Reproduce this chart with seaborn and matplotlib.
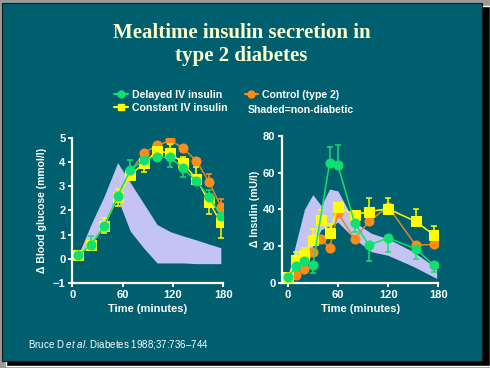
import numpy as np
import pandas as pd
import matplotlib
matplotlib.use("Agg")
import matplotlib.pyplot as plt
import seaborn as sns
from matplotlib.patches import Rectangle
from matplotlib.lines import Line2D

# ---- data ----
# glucose panel (mmol/l change)
t_glu = [7, 22, 38, 54, 69, 85, 101, 117, 132, 148, 163, 177]
glu_delayed = [0.15, 0.57, 1.37, 2.58, 3.67, 4.09, 4.23, 4.2, 3.74, 3.21, 2.56, 1.79]
glu_constant = [0.15, 0.57, 1.37, 2.55, 3.46, 3.95, 4.47, 4.37, 3.95, 3.3, 2.35, 1.51]
glu_control = [0.15, 0.57, 1.37, 2.58, 3.6, 4.37, 4.69, 4.9, 4.58, 4.05, 3.18, 2.16]
glu_delayed_up = [0, 0.38, 0, 0, 0.4, 0, 0, 0, 0, 0, 0.3, 0]
glu_delayed_lo = [0, 0, 0, 0, 0, 0, 0, 0.4, 0.35, 0, 0, 0]
glu_constant_up = [0, 0, 0.3, 0.36, 0, 0, 0, 0.38, 0.28, 0.5, 0, 0]
glu_constant_lo = [0, 0, 0.3, 0.36, 0, 0.35, 0, 0, 0, 0, 0.5, 0.63]
glu_control_up = [0, 0, 0, 0, 0, 0, 0, 0, 0, 0, 0.33, 0.33]
glu_nd_upper = [0.15, 1.4, 2.6, 3.98, 3.16, 2.29, 1.42, 1.12, 0.95, 0.78, 0.61, 0.46]
glu_nd_lower = [0.15, 0.6, 1.5, 2.5, 1.15, 0.45, -0.17, -0.17, -0.17, -0.2, -0.2, -0.2]

# insulin panel (mU/l change)
t_ins_delayed = [0, 10, 20, 30, 50, 60, 80, 97, 120, 153, 175]
ins_delayed = [3, 9, 12, 10, 65, 64, 32.5, 20.5, 24.5, 18.5, 9.5]
ins_delayed_up = [0, 0, 0, 0, 9, 11, 0, 0, 0, 0, 0]
ins_delayed_lo = [0, 0, 0, 4.5, 0, 0, 5, 8.5, 7.7, 5.5, 3.6]
t_ins = [0, 10, 20, 30, 40, 50, 60, 80, 97, 120, 153, 175]
ins_constant = [3, 12.5, 15, 23.5, 34, 27, 41.5, 37, 38.8, 40.3, 33.4, 26]
ins_constant_up = [0, 4.5, 4, 6, 5.5, 5, 0, 0, 7.5, 6, 7, 5]
ins_control = [3, 4.5, 7.5, 17, 24, 19, 38, 24, 33.4, 41.5, 20.5, 21]
t_ins_nd = [0, 10, 20, 30, 40, 50, 60, 80, 100, 120, 150, 178]
ins_nd_upper = [3, 22, 40, 48, 42, 51, 50, 33, 27, 24, 17, 8]
ins_nd_lower = [3, 6, 12, 20, 29, 31, 33, 24, 17, 15, 9, 2.5]

labels = ["Delayed IV insulin", "Constant IV insulin", "Control (type 2)"]

bg = "#005f6f"
green = "#10e070"
yellow = "#ffff00"
orange = "#ff8c1a"
orange_line = "#d98a2a"
lavender = "#c4c4f4"
txt = "#ffffff"

sns.set_theme(style="ticks")
plt.rcParams["font.family"] = ["Liberation Sans", "DejaVu Sans"]
plt.rcParams["mathtext.fontset"] = "custom"
plt.rcParams["mathtext.it"] = "Liberation Sans:italic"
plt.rcParams["mathtext.rm"] = "Liberation Sans"

fig = plt.figure(figsize=(4.9, 3.68), dpi=100)
fig.patch.set_facecolor("#9a9a9a")
fig.patches.append(Rectangle((0.012, 1 - 366 / 368), 0.988, 360 / 368,
                             transform=fig.transFigure, facecolor="black", zorder=-2))
fig.patches.append(Rectangle((0.004, 1 - 361 / 368), 0.98, 358 / 368,
                             transform=fig.transFigure, facecolor=bg,
                             edgecolor="#1a1a1a", linewidth=0.8, zorder=-1))

ax1 = fig.add_axes([0.1476, 0.231, 0.3082, 0.394])
ax2 = fig.add_axes([0.5761, 0.231, 0.3184, 0.4003])


def style_axis(ax):
    ax.set_facecolor("none")
    sns.despine(ax=ax)
    for s in ["left", "bottom"]:
        ax.spines[s].set_color(txt)
        ax.spines[s].set_linewidth(1.6)
    ax.tick_params(colors=txt, width=1.4, length=3, labelsize=8, pad=2)
    for lab in ax.get_xticklabels() + ax.get_yticklabels():
        lab.set_fontweight("bold")


def draw_series(ax, t, y, color, lcolor, marker, up, lo, z):
    df = pd.DataFrame({"t": t, "y": y})
    ax.errorbar(t, y, yerr=[lo, up], fmt="none", ecolor=color, elinewidth=1.1,
                capsize=2.5, capthick=1.1, zorder=z)
    sns.lineplot(data=df, x="t", y="y", ax=ax, color=lcolor, lw=1.1,
                 marker=marker, markersize=6.5, markerfacecolor=color,
                 markeredgecolor=color, zorder=z + 0.5)


# glucose
ax1.fill_between(t_glu, glu_nd_lower, glu_nd_upper, color=lavender, lw=0, zorder=1)
draw_series(ax1, t_glu, glu_control, orange, orange_line, "o",
            glu_control_up, [0] * 12, 2)
draw_series(ax1, t_glu, glu_constant, yellow, yellow, "s",
            glu_constant_up, glu_constant_lo, 3)
draw_series(ax1, t_glu, glu_delayed, green, green, "o",
            glu_delayed_up, glu_delayed_lo, 4)
ax1.set_xlim(0, 180)
ax1.set_ylim(-1, 5)
ax1.set_xticks([0, 60, 120, 180])
ax1.set_yticks(range(-1, 6))
ax1.set_xlabel("Time (minutes)", color=txt, fontsize=8, fontweight="bold", labelpad=3)
ax1.set_ylabel("Δ Blood glucose (mmol/l)", color=txt, fontsize=7.5,
               fontweight="bold", labelpad=4)
style_axis(ax1)

# insulin
ax2.fill_between(t_ins_nd, ins_nd_lower, ins_nd_upper, color=lavender, lw=0, zorder=1)
draw_series(ax2, t_ins, ins_control, orange, orange_line, "o",
            [0] * 12, [0] * 12, 2)
draw_series(ax2, t_ins, ins_constant, yellow, yellow, "s",
            ins_constant_up, [0] * 12, 3)
draw_series(ax2, t_ins_delayed, ins_delayed, green, green, "o",
            ins_delayed_up, ins_delayed_lo, 4)
ax2.set_xlim(-6.5, 180)
ax2.set_ylim(0, 80)
ax2.set_xticks([0, 60, 120, 180])
ax2.set_yticks([0, 20, 40, 60, 80])
ax2.set_xlabel("Time (minutes)", color=txt, fontsize=8, fontweight="bold", labelpad=3)
ax2.set_ylabel("Δ Insulin (mU/l)", color=txt, fontsize=7.5,
               fontweight="bold", labelpad=2)
style_axis(ax2)

# legend
handles = [
    Line2D([], [], color=green, marker="o", markersize=5, lw=1.5),
    Line2D([], [], color=yellow, marker="s", markersize=5, lw=1.5),
    Line2D([], [], color=orange, marker="o", markersize=5, lw=1.5),
]
leg = fig.legend(handles, labels, ncol=2, loc="upper left",
                 bbox_to_anchor=(0.222, 0.77), frameon=False, fontsize=7.6,
                 handlelength=1.3, handletextpad=0.4, columnspacing=1.6,
                 labelspacing=0.3, borderpad=0)
for t in leg.get_texts():
    t.set_color(txt)
    t.set_fontweight("bold")
fig.text(0.506, 0.701, "Shaded=non-diabetic", color=txt, fontsize=7.6,
         fontweight="bold", ha="left", va="center")

# title and source
fig.text(0.493, 0.879, "Mealtime insulin secretion in\ntype 2 diabetes",
         ha="center", va="center", color="#ffffcc", fontsize=15,
         fontweight="bold", family=["Liberation Serif", "DejaVu Serif"],
         linespacing=1.25)
fig.text(0.057, 0.065, r"Bruce D $\it{et\ al}$. Diabetes 1988;37:736–744",
         color=txt, fontsize=7, ha="left", va="center")

fig.savefig("out.png", dpi=100, facecolor=fig.get_facecolor())
